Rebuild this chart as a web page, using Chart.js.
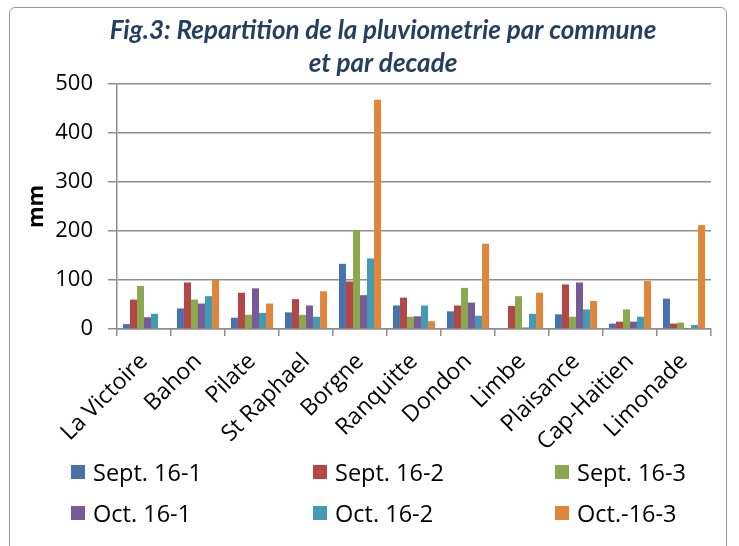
<!DOCTYPE html>
<html>
<head>
<meta charset="utf-8">
<script src="https://cdn.jsdelivr.net/npm/chart.js@4"></script>
<style>
  body { margin: 0; background: #fff; }
  #wrap { position: relative; width: 739px; height: 546px; overflow: hidden; }
  #frame { position: absolute; left: 9px; top: 7px; width: 718px; height: 580px;
           border: 1.5px solid #9a9a9a; border-radius: 6px; box-sizing: border-box; }
  #legend { position: absolute; left: 0; top: 0; width: 739px; height: 546px; pointer-events: none;
            font-family: "Open Sans", sans-serif; font-size: 23.5px; color: #000; }
  .item { position: absolute; display: flex; align-items: center; height: 30px; }
  .box { width: 14px; height: 14px; margin-right: 8px; }
</style>
</head>
<body>
<div id="wrap">
  <div id="frame"></div>
  <canvas id="myChart" width="739" height="546"></canvas>
  <div id="legend"></div>
</div>
<script>
  var communes = ["La Victoire", "Bahon", "Pilate", "St Raphael", "Borgne", "Ranquitte", "Dondon", "Limbe", "Plaisance", "Cap-Haitien", "Limonade"];
  var seriesNames = ["Sept. 16-1", "Sept. 16-2", "Sept. 16-3", "Oct. 16-1", "Oct. 16-2", "Oct.-16-3"];
  var sept1 = [10, 42, 23, 34, 133, 48, 36, 0, 30, 11, 62];
  var sept2 = [60, 95, 74, 61, 97, 64, 48, 47, 91, 15, 11];
  var sept3 = [88, 60, 29, 29, 201, 25, 84, 67, 25, 40, 13];
  var oct1 = [24, 52, 83, 48, 69, 26, 54, 3, 95, 15, 1];
  var oct2 = [31, 67, 33, 25, 144, 48, 27, 31, 40, 25, 8];
  var oct3 = [0, 100, 52, 77, 468, 16, 174, 74, 57, 98, 212];
  var barColors = ["#4873aa", "#b34745", "#8ba84e", "#765b96", "#429bb2", "#e0863c"];

  var allValues = [sept1, sept2, sept3, oct1, oct2, oct3];
  var datasets = allValues.map(function (vals, i) {
    return {
      label: seriesNames[i],
      data: vals,
      backgroundColor: barColors[i],
      borderWidth: 0,
      categoryPercentage: 0.78,
      barPercentage: 1.0
    };
  });

  var gridGrey = "#8e8e8e";

  var chart = new Chart("myChart", {
    type: "bar",
    data: { labels: communes, datasets: datasets },
    options: {
      responsive: false,
      animation: false,
      layout: { padding: { left: 24, right: 28, top: 4, bottom: 97 } },
      plugins: {
        legend: { display: false },
        tooltip: { enabled: false },
        title: {
          display: true,
          text: ["Fig.3: Repartition de la pluviometrie par commune", "et par decade"],
          color: "#243f60",
          font: { family: "Lato", size: 26, weight: "bold", style: "italic", lineHeight: 1.27 },
          padding: { top: 10, bottom: 4 }
        }
      },
      scales: {
        y: {
          min: 0,
          max: 500,
          ticks: { stepSize: 100, color: "#000", padding: 15, font: { family: "Open Sans", size: 22 } },
          grid: { color: gridGrey, lineWidth: 1.5, tickLength: 9 },
          border: { color: gridGrey, width: 1.5 },
          title: { display: true, text: "mm", color: "#000", padding: 0, font: { family: "Open Sans", size: 22, weight: "bold" } },
          afterFit: function (s) { s.width = 93; }
        },
        x: {
          ticks: { color: "#000", autoSkip: false, minRotation: 45, maxRotation: 45, padding: 12, font: { family: "Open Sans", size: 23 } },
          grid: { color: gridGrey, lineWidth: 1.5, drawOnChartArea: false, tickLength: 7 },
          border: { color: gridGrey, width: 1.5 },
          afterFit: function (s) { s.height = 120; }
        }
      }
    },
    plugins: [{
      id: "shiftTitle",
      afterLayout: function (c) { c.titleBlock.left += 31; }
    }]
  });

  // legend in three columns, built from the chart's datasets
  var legendPos = [[71, 457], [313, 457], [555, 457], [71, 498], [313, 498], [555, 498]];
  var legend = document.getElementById("legend");
  chart.data.datasets.forEach(function (ds, i) {
    var item = document.createElement("div");
    item.className = "item";
    item.style.left = legendPos[i][0] + "px";
    item.style.top = legendPos[i][1] + "px";
    var box = document.createElement("span");
    box.className = "box";
    box.style.background = ds.backgroundColor;
    var txt = document.createElement("span");
    txt.textContent = ds.label;
    item.appendChild(box);
    item.appendChild(txt);
    legend.appendChild(item);
  });
</script>
</body>
</html>
